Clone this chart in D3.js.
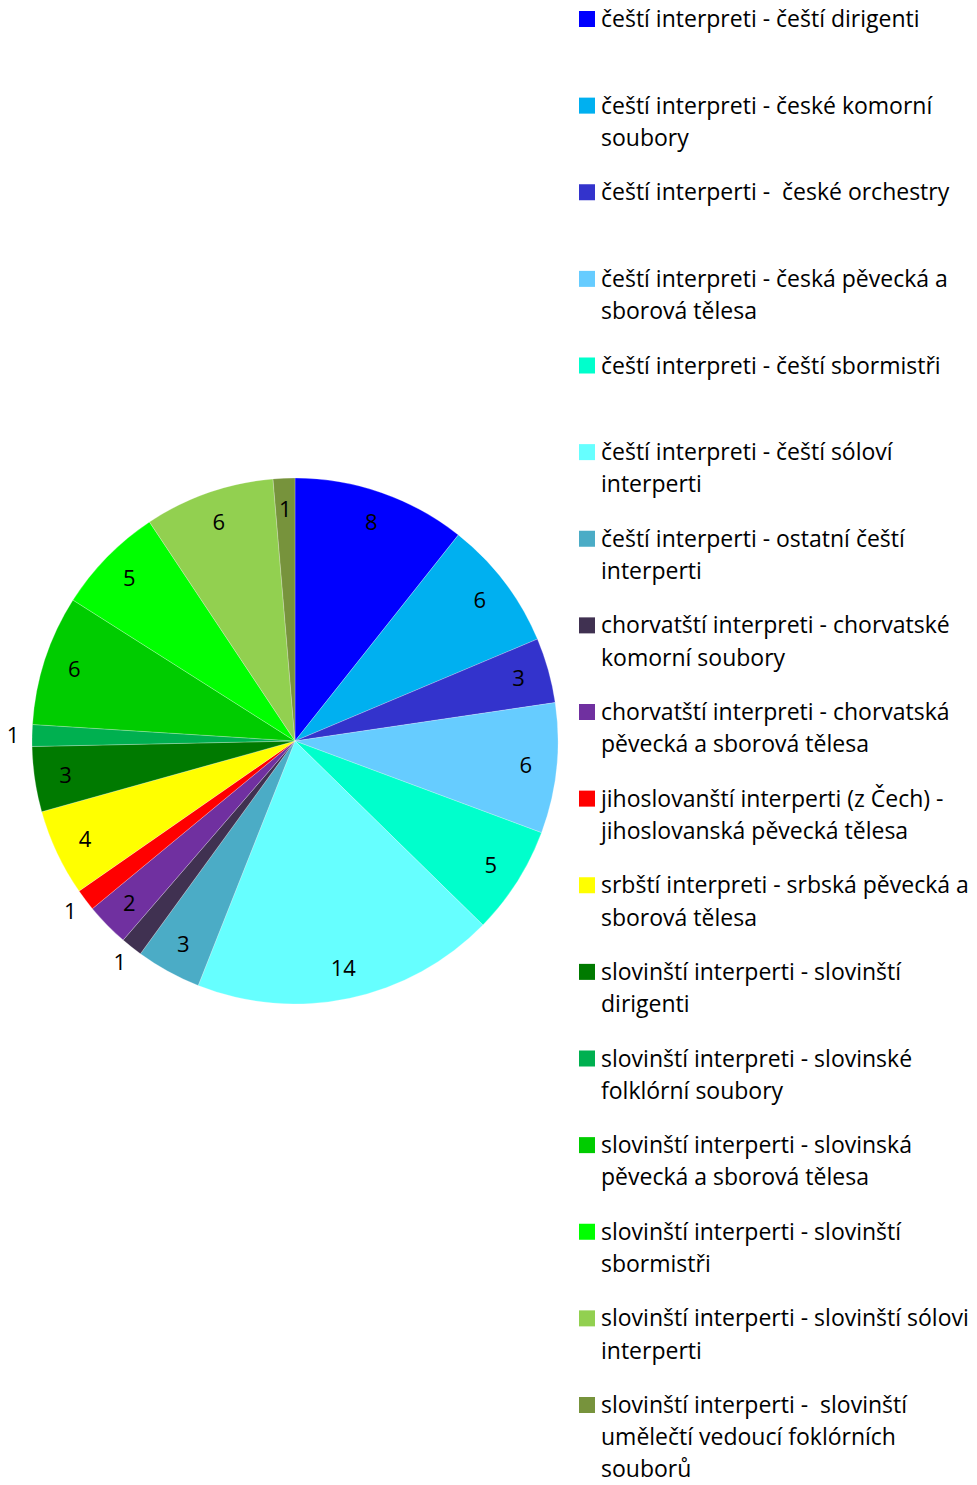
<!DOCTYPE html>
<html>
<head>
<meta charset="utf-8">
<script src="https://cdn.jsdelivr.net/npm/d3@7"></script>
<style>
  body { margin: 0; background: #fff; }
  text { font-family: "Open Sans", "Noto Sans", sans-serif; fill: #000; }
</style>
</head>
<body>
<svg width="977" height="1485"></svg>
<script>
// kategorie (zalomení řádků jako v legendě originálu)
var categories = [
  "čeští interpreti - čeští dirigenti",
  "čeští interpreti - české komorní\nsoubory",
  "čeští interperti -  české orchestry",
  "čeští interpreti - česká pěvecká a\nsborová tělesa",
  "čeští interpreti - čeští sbormistři",
  "čeští interpreti - čeští sóloví\ninterperti",
  "čeští interperti - ostatní čeští\ninterperti",
  "chorvatští interpreti - chorvatské\nkomorní soubory",
  "chorvatští interpreti - chorvatská\npěvecká a sborová tělesa",
  "jihoslovanští interperti (z Čech) -\njihoslovanská pěvecká tělesa",
  "srbští interpreti - srbská pěvecká a\nsborová tělesa",
  "slovinští interperti - slovinští\ndirigenti",
  "slovinští interpreti - slovinské\nfolklórní soubory",
  "slovinští interperti - slovinská\npěvecká a sborová tělesa",
  "slovinští interperti - slovinští\nsbormistři",
  "slovinští interperti - slovinští sólovi\ninterperti",
  "slovinští interperti -  slovinští\numělečtí vedoucí foklórních\nsouborů"
];

var values = [8, 6, 3, 6, 5, 14, 3, 1, 2, 1, 4, 3, 1, 6, 5, 6, 1];

var colors = ["#0000ff", "#00b0f0", "#3333cc", "#66ccff", "#00ffcc", "#66ffff", "#4bacc6",
  "#403151", "#7030a0", "#ff0000", "#ffff00", "#007a00", "#00b050", "#00cc00",
  "#00ff00", "#92d050", "#77933c"];

var data = categories.map(function(c, i) { return {name: c, value: values[i]}; });

var svg = d3.select("svg"),
    cx = 295, cy = 741, radius = 263;

var color = d3.scaleOrdinal().domain(categories).range(colors);

var pie = d3.pie().sort(null).value(function(d) { return d.value; });
var arc = d3.arc().innerRadius(0).outerRadius(radius);
var labelArc = d3.arc().innerRadius(232).outerRadius(232);
var outerLabelArc = d3.arc().innerRadius(282).outerRadius(282);

// popisky, které Excel umístil mimo koláč
var outside = [7, 9, 12];

var g = svg.append("g").attr("transform", "translate(" + cx + "," + cy + ")");
var arcs = pie(data);

g.selectAll("path")
  .data(arcs)
  .enter().append("path")
  .attr("d", arc)
  .attr("fill", function(d) { return color(d.data.name); })
  .attr("stroke", "#fff")
  .attr("stroke-width", 0.4)
  .attr("stroke-opacity", 0.6);

g.selectAll("text.val")
  .data(arcs)
  .enter().append("text")
  .attr("class", "val")
  .attr("transform", function(d, i) {
    var a = outside.indexOf(i) >= 0 ? outerLabelArc : labelArc;
    return "translate(" + a.centroid(d) + ")";
  })
  .attr("text-anchor", "middle")
  .attr("dy", "0.35em")
  .attr("font-size", 22)
  .text(function(d) { return d.data.value; });

// legenda
var ly = d3.scalePoint().domain(categories).range([19, 1405]);

var legend = svg.append("g")
  .selectAll("g")
  .data(categories)
  .enter().append("g")
  .attr("transform", function(d) { return "translate(579," + ly(d) + ")"; });

legend.append("rect")
  .attr("y", -8)
  .attr("width", 16)
  .attr("height", 16)
  .attr("fill", color);

legend.append("text")
  .attr("x", 22)
  .attr("font-size", 23)
  .selectAll("tspan")
  .data(function(d) { return d.split("\n"); })
  .enter().append("tspan")
  .attr("x", 22)
  .attr("y", function(d, i) { return i * 32.2; })
  .attr("dy", "0.35em")
  .style("white-space", "pre")
  .text(function(d) { return d; });
</script>
</body>
</html>
